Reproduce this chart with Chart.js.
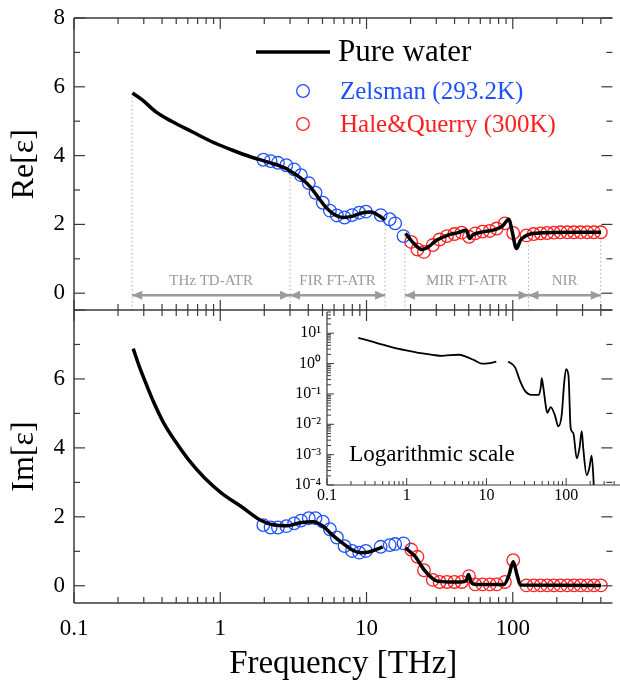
<!DOCTYPE html>
<html>
<head>
<meta charset="utf-8">
<script src="https://cdn.jsdelivr.net/npm/chart.js@4.4.1/dist/chart.umd.min.js"></script>
<style>
  html, body { margin: 0; padding: 0; background: #fff; overflow: hidden; }
  #wrap { position: relative; width: 620px; height: 681px; }
  canvas { position: absolute; }
</style>
</head>
<body>
<div id="wrap">
  <canvas id="reChart" width="620" height="318" style="left:0px;top:0px"></canvas>
  <canvas id="imChart" width="620" height="381" style="left:0px;top:300px"></canvas>
  <canvas id="logChart" width="340" height="200" style="left:280px;top:305px"></canvas>
</div>
<script>
// pure water, real part (null = gap between FIR and MIR)
const reFreq = [0.251,0.293,0.361,0.468,0.637,0.869,1.19,1.62,2.21,2.83,3.01,3.52,4.11,4.68,5.32,6.06,6.90,8.06,9.41,10.7,12.2,13.3,15.6,18.5,21.0,23.9,26.5,30.1,36.1,42.2,48.1,50.6,53.2,63.8,74.6,84.9,94.2,99.1,106,113,122,132,171,258,401];
const reWater = [5.82,5.62,5.28,4.99,4.70,4.41,4.17,3.96,3.79,3.62,3.55,3.36,3.10,2.78,2.48,2.28,2.20,2.24,2.34,2.36,2.25,2.13,null,1.74,1.45,1.27,1.35,1.54,1.69,1.76,1.83,1.59,1.69,1.79,1.84,1.95,2.15,1.79,1.30,1.54,1.66,1.72,1.76,1.77,1.77];

// pure water, imaginary part
const imFreq = [0.254,0.279,0.309,0.352,0.411,0.493,0.606,0.785,1.02,1.39,1.89,2.33,2.85,3.52,4.33,5.07,5.86,6.90,8.06,9.18,10.4,12.1,12.9,15.6,18.5,21.5,25.1,29.4,33.0,36.2,44.4,48.1,49.8,51.9,56.1,87.1,94.2,100.7,107,113,401];
const imWater = [6.88,6.37,5.89,5.31,4.72,4.19,3.66,3.12,2.69,2.30,1.90,1.76,1.74,1.83,1.86,1.72,1.47,1.23,1.03,0.96,0.98,1.08,1.13,null,1.10,0.85,0.43,0.16,0.12,0.11,0.11,0.15,0.33,0.11,0.04,0.04,0.31,0.70,0.31,0.02,0.01];

// Zelsman (293.2K)
const zelFreq = [1.97,2.21,2.48,2.83,3.20,3.56,4.03,4.48,5.03,5.62,6.27,7.08,7.96,8.92,9.90,12.5,14.4,15.7,17.9];
const zelRe = [3.88,3.84,3.79,3.72,3.60,3.43,3.20,2.92,2.63,2.40,2.26,2.20,2.27,2.34,2.37,2.27,2.15,2.03,1.66];
const zelIm = [1.76,1.69,1.69,1.73,1.81,1.89,1.96,1.96,1.86,1.64,1.40,1.15,1.01,0.96,1.01,1.13,1.18,1.21,1.23];

// Hale & Querry (300K)
const hqFreq = [20.2,22.3,24.7,28.4,31.6,35.5,39.9,44.7,50.2,55.4,62.2,69.6,77.6,88.3,100.7,124,139,155,172,191,212,236,262,291,323,359,400];
const hqRe = [1.49,1.27,1.20,1.40,1.56,1.66,1.72,1.76,1.64,1.74,1.79,1.81,1.88,2.03,1.75,1.68,1.72,1.74,1.75,1.76,1.77,1.77,1.77,1.77,1.77,1.77,1.77];
const hqIm = [1.05,0.84,0.45,0.17,0.11,0.11,0.11,0.11,0.28,0.04,0.04,0.04,0.04,0.11,0.74,0.01,0.01,0.01,0.01,0.01,0.01,0.01,0.01,0.01,0.01,0.01,0.01];

// inset: Im on log scale
const logFreq = [0.247,0.35,0.5,0.7,1.0,1.5,2.2,2.8,3.5,4.5,5.5,7.0,8.7,10.4,13.3,15.6,18.8,22.9,26.4,30.5,37.0,44.8,48.0,49.4,51.8,56.0,58.1,64.1,72.6,79.8,88.1,94.2,99.8,107,114,123,136,147,157,164,181,195,209,219,226];
const logIm = [7.0,5.5,4.2,3.3,2.7,2.2,1.9,1.8,1.9,1.95,1.7,1.3,1.0,1.02,1.15,null,1.17,0.75,0.27,0.126,0.093,0.093,0.16,0.33,0.16,0.035,0.024,0.037,0.019,0.0085,0.021,0.21,0.66,0.40,0.0075,0.0051,0.00075,0.0016,0.0059,0.0016,0.00021,0.00035,0.00093,0.00021,0.00003];

// measurement regions
const regionNames = ['THz TD-ATR', 'FIR FT-ATR', 'MIR FT-ATR', 'NIR'];
const regionFrom = [0.25, 3.0, 18.3, 128];
const regionTo = [3.0, 13.4, 128, 400];
const edgeFreq = [0.25, 3.0, 13.4, 18.3, 128, 400];
const edgeTop = [5.82, 3.45, 2.13, 1.74, 1.72, 1.77];
const arrowLevel = -0.06;
const labelLevel = 0.35;

const yMajor = [0, 2, 4, 6, 8];
const yMinor = [1, 3, 5, 7];
const xLabels = [0.1, 1, 10, 100];
const logYLabels = [1e-4, 1e-3, 1e-2, 1e-1, 1, 10];

const serif = "'Liberation Serif', serif";
const blue = '#1e50ff';
const red = '#ff1e1e';
const grey = '#9a9a9a';
const axisColor = '#3a3a3a';

const pts = (xs, ys) => xs.map((x, i) => ({ x: x, y: ys[i] }));

function line(ctx, x1, y1, x2, y2) {
  ctx.beginPath(); ctx.moveTo(x1, y1); ctx.lineTo(x2, y2); ctx.stroke();
}

// stop the label overflow from shrinking the plot area
function noPad(s) {
  s.paddingTop = 0; s.paddingBottom = 0; s.paddingLeft = 0; s.paddingRight = 0;
}

function logTicks(scale) {
  const out = [];
  for (let e = -5; e <= 3; e++) {
    for (let m = 1; m <= 9; m++) {
      const v = m * Math.pow(10, e);
      if (v >= scale.min * 0.999 && v <= scale.max * 1.001) out.push([v, m === 1]);
    }
  }
  return out;
}

// linear y ticks pointing inward on both sides
function yTicks(ctx, y, a) {
  yMajor.forEach(v => {
    const py = y.getPixelForValue(v);
    line(ctx, a.left, py, a.left + 11, py);
    line(ctx, a.right, py, a.right - 11, py);
  });
  yMinor.forEach(v => {
    const py = y.getPixelForValue(v);
    line(ctx, a.left, py, a.left + 6, py);
    line(ctx, a.right, py, a.right - 6, py);
  });
}

const reFrame = {
  id: 'reFrame',
  afterDatasetsDraw(chart) {
    const { ctx, chartArea: a, scales: { x, y } } = chart;
    ctx.save();
    ctx.strokeStyle = axisColor;
    ctx.lineWidth = 1.5;
    line(ctx, a.left, a.top, a.right, a.top);
    line(ctx, a.left, a.top, a.left, a.bottom);
    ctx.lineWidth = 1.2;
    logTicks(x).forEach(([v, major]) => {
      const px = x.getPixelForValue(v);
      line(ctx, px, a.top, px, a.top + (major ? 11 : 6));
    });
    yTicks(ctx, y, a);

    // arrowheads on the region arrows
    ctx.fillStyle = grey;
    chart.data.datasets.forEach((ds, i) => {
      if (!String(ds.label).startsWith('arrow')) return;
      const p = chart.getDatasetMeta(i).data;
      [[p[0], 1], [p[1], -1]].forEach(([pt, dir]) => {
        ctx.beginPath();
        ctx.moveTo(pt.x, pt.y);
        ctx.lineTo(pt.x + dir * 10, pt.y - 4.5);
        ctx.lineTo(pt.x + dir * 10, pt.y + 4.5);
        ctx.closePath();
        ctx.fill();
      });
    });

    // region names
    ctx.font = '15px ' + serif;
    ctx.fillStyle = grey;
    ctx.textAlign = 'center';
    ctx.textBaseline = 'middle';
    regionNames.forEach((name, i) => {
      const px = x.getPixelForValue(Math.sqrt(regionFrom[i] * regionTo[i]));
      ctx.fillText(name, px, y.getPixelForValue(labelLevel));
    });

    // legend
    ctx.textAlign = 'left';
    ctx.strokeStyle = '#000';
    ctx.lineWidth = 3.5;
    line(ctx, 256, 52, 330, 52);
    ctx.fillStyle = '#000';
    ctx.font = '31px ' + serif;
    ctx.fillText('Pure water', 338, 53);
    ctx.lineWidth = 1.3;
    [[blue, 'Zelsman (293.2K)', 91], [red, 'Hale&Querry (300K)', 124]].forEach(([c, t, py]) => {
      ctx.strokeStyle = c;
      ctx.beginPath(); ctx.arc(303, py, 6.3, 0, Math.PI * 2); ctx.stroke();
      ctx.fillStyle = c;
      ctx.font = '25px ' + serif;
      ctx.fillText(t, 340, py + 1);
    });
    ctx.restore();
  }
};

const imFrame = {
  id: 'imFrame',
  afterDatasetsDraw(chart) {
    const { ctx, chartArea: a, scales: { x, y } } = chart;
    ctx.save();
    ctx.strokeStyle = axisColor;
    ctx.lineWidth = 1.5;
    line(ctx, a.left, a.top, a.right, a.top);
    line(ctx, a.left, a.bottom, a.right, a.bottom);
    line(ctx, a.left, a.top, a.left, a.bottom);
    ctx.lineWidth = 1.2;
    logTicks(x).forEach(([v, major]) => {
      const px = x.getPixelForValue(v);
      const len = major ? 11 : 6;
      line(ctx, px, a.top - len, px, a.top + len);
      line(ctx, px, a.bottom, px, a.bottom - len);
    });
    yTicks(ctx, y, a);
    ctx.restore();
  }
};

const logFrame = {
  id: 'logFrame',
  afterDatasetsDraw(chart) {
    const { ctx, chartArea: a, scales: { x, y } } = chart;
    ctx.save();
    ctx.strokeStyle = axisColor;
    ctx.lineWidth = 1.2;
    line(ctx, a.left, a.top, a.left, a.bottom);
    line(ctx, a.left, a.bottom, a.right, a.bottom);
    ctx.lineWidth = 1;
    logTicks(x).forEach(([v, major]) => {
      const px = x.getPixelForValue(v);
      line(ctx, px, a.bottom, px, a.bottom - (major ? 7 : 4));
    });
    logTicks(y).forEach(([v, major]) => {
      const py = y.getPixelForValue(v);
      line(ctx, a.left, py, a.left + (major ? 7 : 4), py);
    });
    ctx.fillStyle = '#000';
    ctx.font = '23px ' + serif;
    ctx.textAlign = 'center';
    ctx.textBaseline = 'middle';
    ctx.fillText('Logarithmic scale', a.left + 105, a.bottom - 30);
    ctx.restore();
  }
};

function yAxis(title, labels) {
  return {
    min: -0.5, max: 8,
    afterBuildTicks: s => { s.ticks = labels.map(v => ({ value: v })); },
    afterFit: s => { s.width = 74; noPad(s); },
    grid: { display: false, drawTicks: false },
    border: { display: false },
    ticks: { padding: 9, color: '#000', font: { family: serif, size: 23 } },
    title: { display: true, text: title, color: '#000', font: { family: serif, size: 32, lineHeight: 1 }, padding: { top: 9, bottom: 0 } }
  };
}

function waterSet(data) {
  return { label: 'Pure water', data: data, borderColor: '#000', borderWidth: 3.5, pointRadius: 0,
    cubicInterpolationMode: 'monotone', spanGaps: false, order: 0 };
}
function dotsSet(label, data, color) {
  return { label: label, data: data, showLine: false, pointRadius: 6.3, pointBorderWidth: 1.3,
    borderColor: color, pointBorderColor: color, backgroundColor: 'transparent', pointBackgroundColor: 'transparent', order: 1 };
}

const reSets = [
  waterSet(pts(reFreq, reWater)),
  dotsSet('Zelsman (293.2K)', pts(zelFreq, zelRe), blue),
  dotsSet('Hale&Querry (300K)', pts(hqFreq, hqRe), red)
];
edgeFreq.forEach((f, i) => {
  reSets.push({ label: 'edge' + i, data: [{ x: f, y: -0.5 }, { x: f, y: edgeTop[i] }], borderColor: '#aaa',
    borderWidth: 1, borderDash: [1.5, 2.5], pointRadius: 0, order: 2 });
});
regionNames.forEach((n, i) => {
  reSets.push({ label: 'arrow' + i, data: [{ x: regionFrom[i], y: arrowLevel }, { x: regionTo[i], y: arrowLevel }],
    borderColor: grey, borderWidth: 2.5, pointRadius: 0, order: 2 });
});

new Chart(document.getElementById('reChart'), {
  type: 'line',
  data: { datasets: reSets },
  options: {
    responsive: false,
    animation: false,
    layout: { padding: { top: 18, right: 0, bottom: 2, left: 0 } },
    plugins: { legend: { display: false }, tooltip: { enabled: false } },
    scales: {
      x: { type: 'logarithmic', min: 0.1, max: 480, display: false },
      y: yAxis('Re[ε]', yMajor)
    }
  },
  plugins: [reFrame]
});

new Chart(document.getElementById('imChart'), {
  type: 'line',
  data: { datasets: [
    waterSet(pts(imFreq, imWater)),
    dotsSet('Zelsman (293.2K)', pts(zelFreq, zelIm), blue),
    dotsSet('Hale&Querry (300K)', pts(hqFreq, hqIm), red)
  ] },
  options: {
    responsive: false,
    animation: false,
    layout: { padding: { top: 10, right: 0, bottom: 0, left: 0 } },
    plugins: { legend: { display: false }, tooltip: { enabled: false } },
    scales: {
      x: {
        type: 'logarithmic', min: 0.1, max: 480,
        afterBuildTicks: s => { s.ticks = xLabels.map(v => ({ value: v })); },
        afterFit: s => { s.height = 78; noPad(s); },
        grid: { display: false, drawTicks: false },
        border: { display: false },
        ticks: { padding: 12, color: '#000', font: { family: serif, size: 23 }, maxRotation: 0, autoSkip: false, callback: v => String(v) },
        title: { display: true, text: 'Frequency [THz]', color: '#000', font: { family: serif, size: 33, lineHeight: 1 }, padding: { top: 0, bottom: 0 } }
      },
      y: yAxis('Im[ε]', [0, 2, 4, 6])
    }
  },
  plugins: [imFrame]
});

const supDigits = { '-': '⁻', '0': '⁰', '1': '¹', '2': '²', '3': '³', '4': '⁴' };
const sup = n => String(n).split('').map(c => supDigits[c]).join('');

new Chart(document.getElementById('logChart'), {
  type: 'line',
  data: { datasets: [{ label: 'Im log', data: pts(logFreq, logIm), borderColor: '#000', borderWidth: 1.8,
    pointRadius: 0, cubicInterpolationMode: 'monotone', spanGaps: false }] },
  options: {
    responsive: false,
    animation: false,
    layout: { padding: { top: 7, right: 0, bottom: 0, left: 0 } },
    plugins: { legend: { display: false }, tooltip: { enabled: false } },
    scales: {
      x: {
        type: 'logarithmic', min: 0.1, max: 474,
        afterBuildTicks: s => { s.ticks = xLabels.map(v => ({ value: v })); },
        afterFit: s => { s.height = 20; noPad(s); },
        grid: { display: false, drawTicks: false },
        border: { display: false },
        ticks: { padding: 1, color: '#000', font: { family: serif, size: 16 }, maxRotation: 0, autoSkip: false, callback: v => String(v) }
      },
      y: {
        type: 'logarithmic', min: 1e-4, max: 50,
        afterBuildTicks: s => { s.ticks = logYLabels.map(v => ({ value: v })); },
        afterFit: s => { s.width = 47; noPad(s); },
        grid: { display: false, drawTicks: false },
        border: { display: false },
        ticks: { padding: 6, color: '#000', font: { family: serif, size: 16 }, autoSkip: false,
          callback: v => '10' + sup(Math.round(Math.log10(v))) }
      }
    }
  },
  plugins: [logFrame]
});
</script>
</body>
</html>
